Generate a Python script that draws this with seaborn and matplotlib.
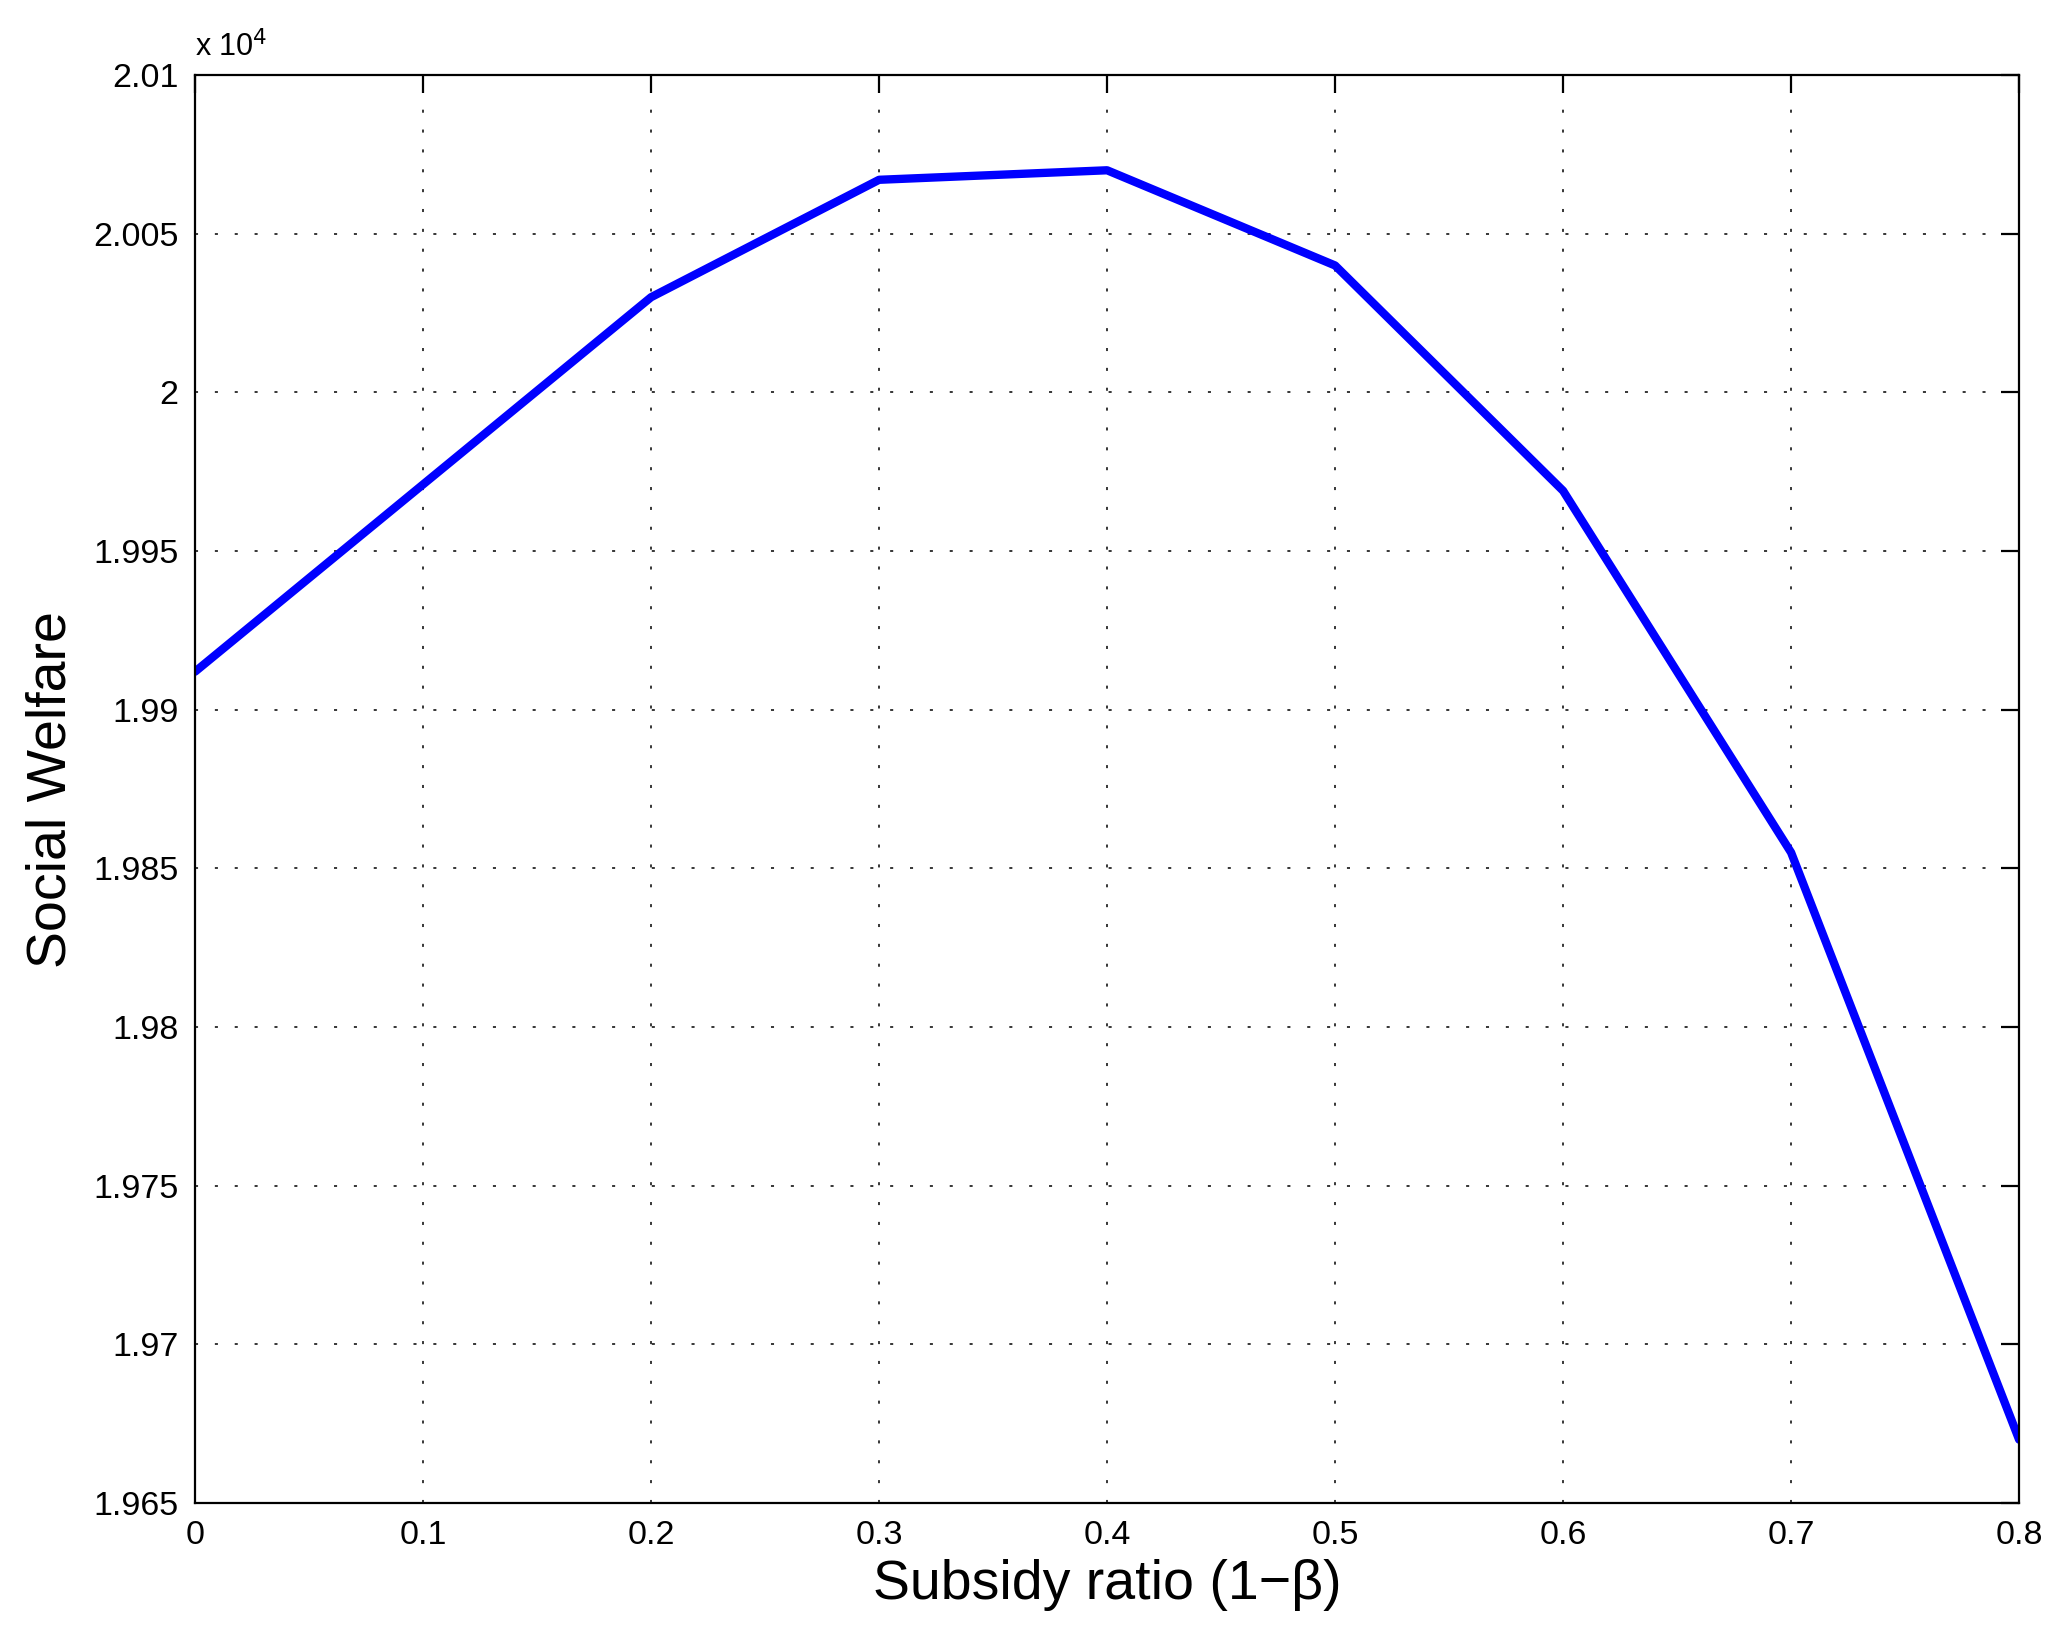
import numpy as np
import pandas as pd
import matplotlib
matplotlib.use('Agg')
import matplotlib.pyplot as plt
import seaborn as sns
from matplotlib.ticker import FuncFormatter

# Data
subsidy_ratio = [0.0, 0.1, 0.2, 0.3, 0.4, 0.5, 0.6, 0.7, 0.8]
social_welfare = [19912, 19971, 20030, 20067, 20070, 20040, 19969, 19855, 19670]
x_ticks = [0, 0.1, 0.2, 0.3, 0.4, 0.5, 0.6, 0.7, 0.8]
y_ticks = [1.965, 1.97, 1.975, 1.98, 1.985, 1.99, 1.995, 2.0, 2.005, 2.01]

df = pd.DataFrame({'ratio': subsidy_ratio, 'welfare': np.array(social_welfare) / 1e4})

sns.set_style('white')
plt.rcParams['font.family'] = ['Liberation Sans', 'DejaVu Sans']
plt.rcParams['text.color'] = 'black'
plt.rcParams['axes.labelcolor'] = 'black'

fig = plt.figure(figsize=(20.62, 16.32), dpi=100)
ax = fig.add_axes([0.0946, 0.079, 0.8846, 0.875])

sns.lineplot(data=df, x='ratio', y='welfare', ax=ax, color='#0000ff', linewidth=6)

ax.set_xlim(0, 0.8)
ax.set_ylim(1.965, 2.01)
ax.set_xticks(x_ticks)
ax.set_yticks(y_ticks)
ax.xaxis.set_major_formatter(FuncFormatter(lambda v, p: f'{v:g}'))
ax.yaxis.set_major_formatter(FuncFormatter(lambda v, p: f'{round(v, 4):g}'))

ax.grid(True, color='black', linestyle=(0, (2, 11)), linewidth=1.1)
ax.tick_params(direction='in', length=13, width=1.6, labelsize=24.5,
               top=True, right=True, pad=12, colors='black')
for s in ax.spines.values():
    s.set_color('black')
    s.set_linewidth(1.6)

ax.set_xlabel('Subsidy ratio (1\u2212\u03b2)', fontsize=40, labelpad=6)
ax.set_ylabel('Social Welfare', fontsize=40, labelpad=11)
ax.text(0.0, 1.008, 'x 10$^{4}$', transform=ax.transAxes, fontsize=22,
        ha='left', va='bottom')

fig.savefig('out.png', dpi=100)
